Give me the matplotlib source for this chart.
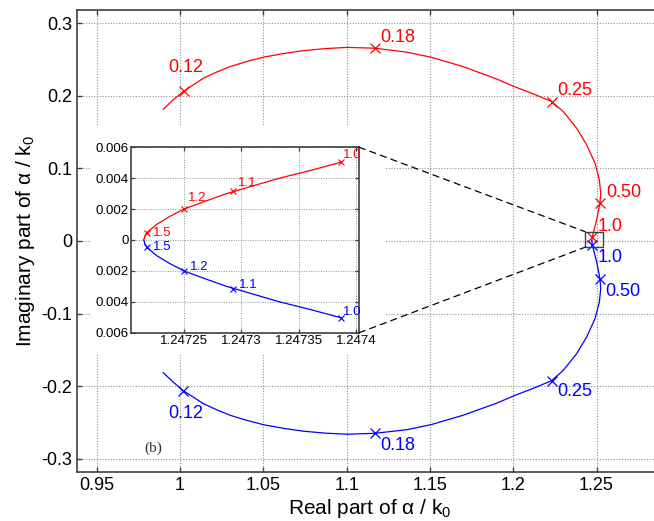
import matplotlib
matplotlib.use('Agg')
import matplotlib.pyplot as plt
from matplotlib.patches import Rectangle, ConnectionPatch

plt.rcParams['font.family'] = ['Liberation Sans', 'DejaVu Sans']
plt.rcParams['mathtext.fontset'] = 'custom'
plt.rcParams['mathtext.rm'] = 'Liberation Sans'
plt.rcParams['mathtext.it'] = 'Liberation Sans:italic'
plt.rcParams['mathtext.default'] = 'regular'

# Data
red_re = [0.990, 0.996, 1.0026, 1.014, 1.022, 1.030, 1.040, 1.050, 1.062, 1.074, 1.087,
          1.100, 1.117, 1.136, 1.1507, 1.170, 1.190, 1.2007, 1.212, 1.2231, 1.2301,
          1.2381, 1.2441, 1.2491, 1.2517, 1.2525, 1.2521, 1.2501, 1.24739, 1.24722]
red_im = [0.1814, 0.1945, 0.2066, 0.224, 0.2325, 0.240, 0.247, 0.253, 0.258, 0.262, 0.2648,
          0.2665, 0.2654, 0.260, 0.253, 0.240, 0.223, 0.2125, 0.2025, 0.1919, 0.178,
          0.1552, 0.1322, 0.107, 0.084, 0.0657, 0.0528, 0.029, 0.00504, 0.0]
blue_re = [0.990, 0.996, 1.002, 1.014, 1.022, 1.030, 1.040, 1.050, 1.062, 1.074, 1.087,
           1.100, 1.117, 1.136, 1.1507, 1.170, 1.190, 1.2007, 1.212, 1.2231, 1.2301,
           1.2381, 1.2441, 1.2491, 1.2517, 1.2525, 1.2521, 1.2501, 1.24739, 1.24722]
blue_im = [-0.1814, -0.1945, -0.2062, -0.224, -0.2325, -0.240, -0.247, -0.253, -0.258, -0.262, -0.2646,
           -0.2662, -0.2649, -0.260, -0.253, -0.240, -0.2235, -0.213, -0.203, -0.1924, -0.178,
           -0.1552, -0.1322, -0.107, -0.084, -0.0657, -0.0528, -0.029, -0.00504, 0.0]

main_labels = ['0.12', '0.18', '0.25', '0.50', '1.0']
red_mark_re = [1.0026, 1.117, 1.2231, 1.2521, 1.24739]
red_mark_im = [0.2066, 0.2654, 0.1919, 0.0528, 0.00504]
blue_mark_re = [1.002, 1.117, 1.2231, 1.2521, 1.24739]
blue_mark_im = [-0.2062, -0.2649, -0.1924, -0.0528, -0.00504]

# zoomed region near the branch point
ins_red_re = [1.247215, 1.247216, 1.247218, 1.247226, 1.247237, 1.24725, 1.247268,
              1.247287, 1.24731, 1.247333, 1.24736, 1.247387]
ins_red_im = [0.0, 0.00025, 0.0005, 0.001, 0.0015, 0.002, 0.0025,
              0.003, 0.0035, 0.004, 0.0045, 0.00504]
ins_blue_re = [1.247215, 1.247216, 1.247218, 1.247226, 1.247237, 1.24725, 1.247268,
               1.247287, 1.24731, 1.247333, 1.24736, 1.247387]
ins_blue_im = [0.0, -0.00025, -0.0005, -0.001, -0.0015, -0.002, -0.0025,
               -0.003, -0.0035, -0.004, -0.0045, -0.00504]

ins_labels = ['1.0', '1.1', '1.2', '1.5']
ins_red_mark_re = [1.247387, 1.247293, 1.24725, 1.247218]
ins_red_mark_im = [0.00504, 0.00316, 0.0020, 0.00048]
ins_blue_mark_re = [1.247387, 1.247293, 1.24725, 1.247218]
ins_blue_mark_im = [-0.00504, -0.00318, -0.00198, -0.00046]

x_ticks = [0.95, 1.0, 1.05, 1.1, 1.15, 1.2, 1.25]
x_ticklabels = ['0.95', '1', '1.05', '1.1', '1.15', '1.2', '1.25']
y_ticks = [-0.3, -0.2, -0.1, 0.0, 0.1, 0.2, 0.3]
y_ticklabels = ['-0.3', '-0.2', '-0.1', '0', '0.1', '0.2', '0.3']
ins_x_ticks = [1.24725, 1.2473, 1.24735, 1.2474]
ins_x_ticklabels = ['1.24725', '1.2473', '1.24735', '1.2474']
ins_y_ticks = [-0.006, -0.004, -0.002, 0.0, 0.002, 0.004, 0.006]
ins_y_ticklabels = ['0.006', '0.004', '0.002', '0', '0.002', '0.004', '0.006']

RED = '#ff0000'
BLUE = '#0000ff'
SPINE = '#404040'

fig = plt.figure(figsize=(6.54, 5.21), dpi=100)
ax = fig.add_axes([0.1182, 0.0946, 0.891, 0.8862])

ax.plot(red_re, red_im, color=RED, lw=0.9)
ax.plot(blue_re, blue_im, color=BLUE, lw=0.9)
ax.plot(red_mark_re, red_mark_im, 'x', color=RED, ms=7, mew=0.9)
ax.plot(blue_mark_re, blue_mark_im, 'x', color=BLUE, ms=7, mew=0.9)

red_off = [(0.7, 16.9), (16.6, 7.9), (16.6, 7.9), (16.9, 7.2), (13, 7.9)]
blue_off = [(1.8, -16.6), (16.6, -8.6), (16.6, -7.9), (16.6, -8.6), (13, -9.4)]
for lab, x, y, off in zip(main_labels, red_mark_re, red_mark_im, red_off):
    ax.annotate(lab, (x, y), xytext=off, textcoords='offset points',
                ha='center', va='center', color=RED, fontsize=13)
for lab, x, y, off in zip(main_labels, blue_mark_re, blue_mark_im, blue_off):
    ax.annotate(lab, (x, y), xytext=off, textcoords='offset points',
                ha='center', va='center', color=BLUE, fontsize=13)

ax.add_patch(Rectangle((1.2431, -0.0087), 0.0106, 0.0215, fill=False,
                       edgecolor=SPINE, lw=1.0, zorder=4))

ax.text(0.9838, -0.285, '(b)', family='Liberation Serif', fontsize=11,
        color='#333333', ha='center', va='center')

ax.set_xlim(0.9384, 1.2881)
ax.set_ylim(-0.3178, 0.318)
ax.set_xticks(x_ticks)
ax.set_xticklabels(x_ticklabels)
ax.set_yticks(y_ticks)
ax.set_yticklabels(y_ticklabels)
ax.tick_params(direction='in', top=True, right=True, length=3.5, width=1.0,
               color=SPINE, labelsize=13, pad=3.5)
ax.grid(True, color='#909090', linestyle=(0, (1, 1.5)), lw=0.8)
for s in ax.spines.values():
    s.set_color(SPINE)
    s.set_linewidth(1.2)

ax.set_xlabel('Real part of α / k$_0$', fontsize=15)
ax.set_ylabel('Imaginary part of α / k$_0$', fontsize=15)
ax.xaxis.set_label_coords(0.502, -0.055)
ax.yaxis.set_label_coords(-0.069, 0.5)

# white backing behind the inset
fig.patches.append(Rectangle((0.1376, 0.3186), 0.4511, 0.4376, transform=fig.transFigure,
                             facecolor='white', edgecolor='none', zorder=1))

ins = fig.add_axes([0.1998, 0.3614, 0.3495, 0.3559])
ins.set_zorder(2)
ins.plot(ins_red_re, ins_red_im, color=RED, lw=0.9)
ins.plot(ins_blue_re, ins_blue_im, color=BLUE, lw=0.9)
ins.plot(ins_red_mark_re, ins_red_mark_im, 'x', color=RED, ms=4.5, mew=0.8)
ins.plot(ins_blue_mark_re, ins_blue_mark_im, 'x', color=BLUE, ms=4.5, mew=0.8)

ins_red_off = [(7.6, 5.0), (9.9, 6.1), (9.7, 8.1), (10.8, 0)]
ins_blue_off = [(7.6, 4.3), (10.8, 2.9), (10.8, 2.9), (10.8, 0)]
for lab, x, y, off in zip(ins_labels, ins_red_mark_re, ins_red_mark_im, ins_red_off):
    ins.annotate(lab, (x, y), xytext=off, textcoords='offset points',
                 ha='center', va='center', color=RED, fontsize=9.5)
for lab, x, y, off in zip(ins_labels, ins_blue_mark_re, ins_blue_mark_im, ins_blue_off):
    ins.annotate(lab, (x, y), xytext=off, textcoords='offset points',
                 ha='center', va='center', color=BLUE, fontsize=9.5)

ins.set_xlim(1.2472036, 1.2474025)
ins.set_ylim(-0.006, 0.006)
ins.set_xticks(ins_x_ticks)
ins.set_xticklabels(ins_x_ticklabels)
ins.set_yticks(ins_y_ticks)
ins.set_yticklabels(ins_y_ticklabels)
ins.tick_params(direction='in', top=True, right=True, length=3, width=0.9,
                color=SPINE, labelsize=9.5, pad=1.5)
ins.grid(True, color='#909090', linestyle=(0, (1, 1.5)), lw=0.7)
for s in ins.spines.values():
    s.set_color(SPINE)
    s.set_linewidth(1.2)

# dashed connectors from inset to the small box
for ya, yb in [(1, 0.0128), (0, -0.0087)]:
    con = ConnectionPatch(xyA=(1, ya), coordsA=ins.transAxes,
                          xyB=(1.2431, yb), coordsB=ax.transData,
                          color='black', lw=0.9, linestyle=(0, (5, 4)), zorder=3)
    fig.add_artist(con)

fig.savefig('out.png', dpi=100)
